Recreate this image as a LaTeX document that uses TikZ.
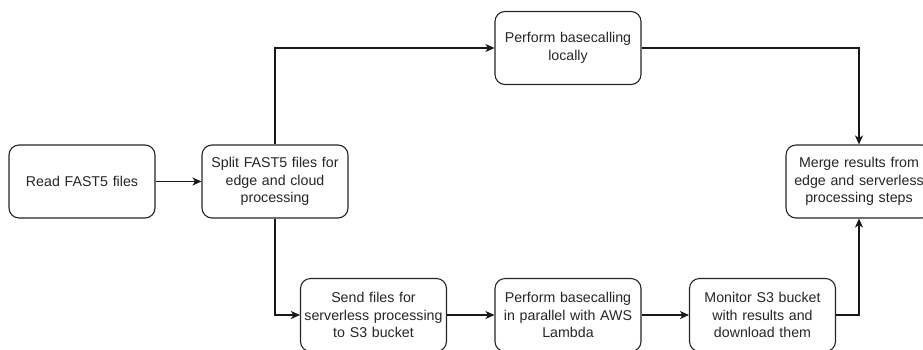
\documentclass[tikz,border=0pt]{standalone}
\usepackage{fontspec}
\setmainfont{Liberation Sans}
\usetikzlibrary{arrows.meta}
\begin{document}
\begin{tikzpicture}[x=1pt,y=-1pt,
  box/.style={draw=black!85, line width=1.1pt, rounded corners=10pt, fill=white,
    minimum width=146pt, minimum height=73pt, align=center, inner sep=2pt,
    text width=142pt, font=\fontsize{14.2}{17.5}\selectfont, text=black!85},
  conn/.style={draw=black!90, line width=1.1pt, -{Stealth[length=9pt,width=8pt,inset=2.5pt]}}]
\useasboundingbox (0,0) rectangle (923,349);
\node[box] (read) at (82,181.5) {Read FAST5 files};
\node[box] (split) at (275,181.5) {Split FAST5 files for\\edge and cloud\\processing};
\node[box] (local) at (568,48) {Perform basecalling\\locally};
\node[box] (merge) at (859,181.5) {Merge results from\\edge and serverless\\processing steps};
\node[box] (send) at (373.5,315) {Send files for\\serverless processing\\to S3 bucket};
\node[box] (lambda) at (568,315) {Perform basecalling\\in parallel with AWS\\Lambda};
\node[box] (monitor) at (762.5,315) {Monitor S3 bucket\\with results and\\download them};
\draw[conn] (read) -- (split);
\draw[conn] (split.north) |- (local.west);
\draw[conn] (split.south) |- (send.west);
\draw[conn] (local.east) -| (merge.north);
\draw[conn] (send) -- (lambda);
\draw[conn] (lambda) -- (monitor);
\draw[conn] (monitor.east) -| (merge.south);
\end{tikzpicture}
\end{document}
